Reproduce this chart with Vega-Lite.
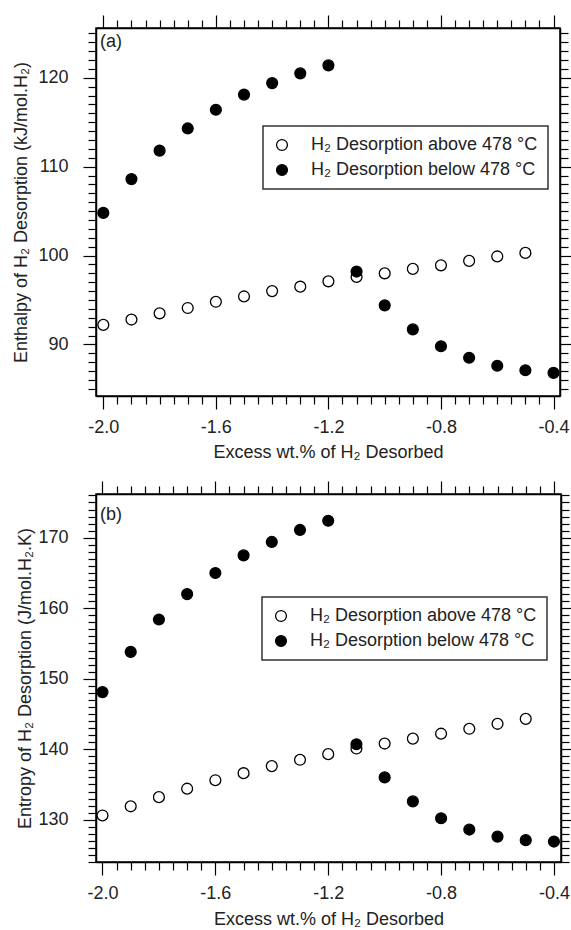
{
  "$schema": "https://vega.github.io/schema/vega-lite/v6.json",
  "padding": {"left": 12, "top": 13, "right": 0, "bottom": 0},
  "spacing": 17,
  "resolve": {"legend": {"fill": "independent"}, "scale": {"fill": "independent"}},
  "datasets": {
    "enthalpy": [
      {"x": -2.0, "v": 92.2, "s": "H₂ Desorption above 478 °C"},
      {"x": -1.9, "v": 92.8, "s": "H₂ Desorption above 478 °C"},
      {"x": -1.8, "v": 93.5, "s": "H₂ Desorption above 478 °C"},
      {"x": -1.7, "v": 94.1, "s": "H₂ Desorption above 478 °C"},
      {"x": -1.6, "v": 94.8, "s": "H₂ Desorption above 478 °C"},
      {"x": -1.5, "v": 95.4, "s": "H₂ Desorption above 478 °C"},
      {"x": -1.4, "v": 96.0, "s": "H₂ Desorption above 478 °C"},
      {"x": -1.3, "v": 96.5, "s": "H₂ Desorption above 478 °C"},
      {"x": -1.2, "v": 97.1, "s": "H₂ Desorption above 478 °C"},
      {"x": -1.1, "v": 97.6, "s": "H₂ Desorption above 478 °C"},
      {"x": -1.0, "v": 98.0, "s": "H₂ Desorption above 478 °C"},
      {"x": -0.9, "v": 98.5, "s": "H₂ Desorption above 478 °C"},
      {"x": -0.8, "v": 98.9, "s": "H₂ Desorption above 478 °C"},
      {"x": -0.7, "v": 99.4, "s": "H₂ Desorption above 478 °C"},
      {"x": -0.6, "v": 99.9, "s": "H₂ Desorption above 478 °C"},
      {"x": -0.5, "v": 100.3, "s": "H₂ Desorption above 478 °C"},
      {"x": -2.0, "v": 104.8, "s": "H₂ Desorption below 478 °C"},
      {"x": -1.9, "v": 108.6, "s": "H₂ Desorption below 478 °C"},
      {"x": -1.8, "v": 111.8, "s": "H₂ Desorption below 478 °C"},
      {"x": -1.7, "v": 114.3, "s": "H₂ Desorption below 478 °C"},
      {"x": -1.6, "v": 116.4, "s": "H₂ Desorption below 478 °C"},
      {"x": -1.5, "v": 118.1, "s": "H₂ Desorption below 478 °C"},
      {"x": -1.4, "v": 119.4, "s": "H₂ Desorption below 478 °C"},
      {"x": -1.3, "v": 120.5, "s": "H₂ Desorption below 478 °C"},
      {"x": -1.2, "v": 121.4, "s": "H₂ Desorption below 478 °C"},
      {"x": -1.1, "v": 98.2, "s": "H₂ Desorption below 478 °C"},
      {"x": -1.0, "v": 94.4, "s": "H₂ Desorption below 478 °C"},
      {"x": -0.9, "v": 91.7, "s": "H₂ Desorption below 478 °C"},
      {"x": -0.8, "v": 89.8, "s": "H₂ Desorption below 478 °C"},
      {"x": -0.7, "v": 88.5, "s": "H₂ Desorption below 478 °C"},
      {"x": -0.6, "v": 87.6, "s": "H₂ Desorption below 478 °C"},
      {"x": -0.5, "v": 87.1, "s": "H₂ Desorption below 478 °C"},
      {"x": -0.4, "v": 86.8, "s": "H₂ Desorption below 478 °C"}
    ],
    "entropy": [
      {"x": -2.0, "v": 130.6, "s": "H₂ Desorption above 478 °C"},
      {"x": -1.9, "v": 131.9, "s": "H₂ Desorption above 478 °C"},
      {"x": -1.8, "v": 133.2, "s": "H₂ Desorption above 478 °C"},
      {"x": -1.7, "v": 134.4, "s": "H₂ Desorption above 478 °C"},
      {"x": -1.6, "v": 135.6, "s": "H₂ Desorption above 478 °C"},
      {"x": -1.5, "v": 136.6, "s": "H₂ Desorption above 478 °C"},
      {"x": -1.4, "v": 137.6, "s": "H₂ Desorption above 478 °C"},
      {"x": -1.3, "v": 138.5, "s": "H₂ Desorption above 478 °C"},
      {"x": -1.2, "v": 139.3, "s": "H₂ Desorption above 478 °C"},
      {"x": -1.1, "v": 140.1, "s": "H₂ Desorption above 478 °C"},
      {"x": -1.0, "v": 140.8, "s": "H₂ Desorption above 478 °C"},
      {"x": -0.9, "v": 141.5, "s": "H₂ Desorption above 478 °C"},
      {"x": -0.8, "v": 142.2, "s": "H₂ Desorption above 478 °C"},
      {"x": -0.7, "v": 142.9, "s": "H₂ Desorption above 478 °C"},
      {"x": -0.6, "v": 143.6, "s": "H₂ Desorption above 478 °C"},
      {"x": -0.5, "v": 144.3, "s": "H₂ Desorption above 478 °C"},
      {"x": -2.0, "v": 148.1, "s": "H₂ Desorption below 478 °C"},
      {"x": -1.9, "v": 153.8, "s": "H₂ Desorption below 478 °C"},
      {"x": -1.8, "v": 158.4, "s": "H₂ Desorption below 478 °C"},
      {"x": -1.7, "v": 162.0, "s": "H₂ Desorption below 478 °C"},
      {"x": -1.6, "v": 165.0, "s": "H₂ Desorption below 478 °C"},
      {"x": -1.5, "v": 167.5, "s": "H₂ Desorption below 478 °C"},
      {"x": -1.4, "v": 169.4, "s": "H₂ Desorption below 478 °C"},
      {"x": -1.3, "v": 171.1, "s": "H₂ Desorption below 478 °C"},
      {"x": -1.2, "v": 172.4, "s": "H₂ Desorption below 478 °C"},
      {"x": -1.1, "v": 140.7, "s": "H₂ Desorption below 478 °C"},
      {"x": -1.0, "v": 136.0, "s": "H₂ Desorption below 478 °C"},
      {"x": -0.9, "v": 132.6, "s": "H₂ Desorption below 478 °C"},
      {"x": -0.8, "v": 130.2, "s": "H₂ Desorption below 478 °C"},
      {"x": -0.7, "v": 128.6, "s": "H₂ Desorption below 478 °C"},
      {"x": -0.6, "v": 127.6, "s": "H₂ Desorption below 478 °C"},
      {"x": -0.5, "v": 127.1, "s": "H₂ Desorption below 478 °C"},
      {"x": -0.4, "v": 126.9, "s": "H₂ Desorption below 478 °C"}
    ]
  },
  "vconcat": [
    {
      "width": 464,
      "height": 368,
      "resolve": {"axis": {"x": "independent", "y": "independent"}},
      "layer": [
        {
          "data": {"name": "enthalpy"},
          "mark": {"type": "point", "shape": "circle", "filled": true, "stroke": "black", "strokeWidth": 1.3, "size": 118, "opacity": 1},
          "encoding": {
            "x": {"field": "x", "type": "quantitative",
              "scale": {"domain": [-2.026, -0.377], "nice": false, "zero": false},
              "axis": {"orient": "bottom",
                "values": [-2, -1.95, -1.9, -1.85, -1.8, -1.75, -1.7, -1.65, -1.6, -1.55, -1.5, -1.45, -1.4, -1.35, -1.3, -1.25, -1.2, -1.15, -1.1, -1.05, -1, -0.95, -0.9, -0.85, -0.8, -0.75, -0.7, -0.65, -0.6, -0.55, -0.5, -0.45, -0.4],
                "tickSize": {"condition": {"test": "abs(datum.value/0.4 - round(datum.value/0.4)) < 0.01", "value": 13}, "value": 8},
                "labelExpr": "abs(datum.value/0.4 - round(datum.value/0.4)) < 0.01 ? (datum.value < 0 ? '-' : '') + format(abs(datum.value), '.1f') : ''",
                "labelPadding": 9,
                "title": "Excess wt.% of H₂ Desorbed", "titlePadding": 7}},
            "y": {"field": "v", "type": "quantitative",
              "scale": {"domain": [84.2, 125.6], "nice": false, "zero": false},
              "axis": {"orient": "left",
                "values": [85, 86, 87, 88, 89, 90, 91, 92, 93, 94, 95, 96, 97, 98, 99, 100, 101, 102, 103, 104, 105, 106, 107, 108, 109, 110, 111, 112, 113, 114, 115, 116, 117, 118, 119, 120, 121, 122, 123, 124, 125],
                "tickSize": {"condition": {"test": "datum.value % 10 === 0", "value": 13}, "value": 8},
                "labelExpr": "datum.value % 10 === 0 ? datum.label : ''",
                "labelPadding": 15,
                "title": "Enthalpy of H₂ Desorption (kJ/mol.H₂)", "titlePadding": 7}},
            "fill": {"field": "s", "type": "nominal",
              "scale": {"domain": ["H₂ Desorption above 478 °C", "H₂ Desorption below 478 °C"], "range": ["white", "black"]},
              "legend": {"orient": "none", "legendX": 167, "legendY": 98, "title": null}}
          }
        },
        {
          "data": {"name": "enthalpy"},
          "mark": {"type": "point", "opacity": 0},
          "encoding": {
            "x": {"field": "x", "type": "quantitative",
              "axis": {"orient": "top", "labels": false, "title": null,
                "values": [-2, -1.95, -1.9, -1.85, -1.8, -1.75, -1.7, -1.65, -1.6, -1.55, -1.5, -1.45, -1.4, -1.35, -1.3, -1.25, -1.2, -1.15, -1.1, -1.05, -1, -0.95, -0.9, -0.85, -0.8, -0.75, -0.7, -0.65, -0.6, -0.55, -0.5, -0.45, -0.4],
                "tickSize": {"condition": {"test": "abs(datum.value/0.4 - round(datum.value/0.4)) < 0.01", "value": 13}, "value": 8}}},
            "y": {"field": "v", "type": "quantitative",
              "axis": {"orient": "right", "labels": false, "title": null,
                "values": [85, 86, 87, 88, 89, 90, 91, 92, 93, 94, 95, 96, 97, 98, 99, 100, 101, 102, 103, 104, 105, 106, 107, 108, 109, 110, 111, 112, 113, 114, 115, 116, 117, 118, 119, 120, 121, 122, 123, 124, 125],
                "tickSize": {"condition": {"test": "datum.value % 10 === 0", "value": 13}, "value": 8}}}
          }
        },
        {
          "data": {"values": [{"panel": "(a)"}]},
          "mark": {"type": "text", "align": "left", "baseline": "middle", "font": "Liberation Sans", "fontSize": 18, "color": "#222"},
          "encoding": {
            "x": {"datum": -2.012, "type": "quantitative", "axis": null},
            "y": {"datum": 124.0, "type": "quantitative", "axis": null},
            "text": {"field": "panel"}
          }
        }
      ]
    },
    {
      "width": 465,
      "height": 368,
      "resolve": {"axis": {"x": "independent", "y": "independent"}},
      "layer": [
        {
          "data": {"name": "entropy"},
          "mark": {"type": "point", "shape": "circle", "filled": true, "stroke": "black", "strokeWidth": 1.3, "size": 118, "opacity": 1},
          "encoding": {
            "x": {"field": "x", "type": "quantitative",
              "scale": {"domain": [-2.023, -0.375], "nice": false, "zero": false},
              "axis": {"orient": "bottom",
                "values": [-2, -1.95, -1.9, -1.85, -1.8, -1.75, -1.7, -1.65, -1.6, -1.55, -1.5, -1.45, -1.4, -1.35, -1.3, -1.25, -1.2, -1.15, -1.1, -1.05, -1, -0.95, -0.9, -0.85, -0.8, -0.75, -0.7, -0.65, -0.6, -0.55, -0.5, -0.45, -0.4],
                "tickSize": {"condition": {"test": "abs(datum.value/0.4 - round(datum.value/0.4)) < 0.01", "value": 13}, "value": 8},
                "labelExpr": "abs(datum.value/0.4 - round(datum.value/0.4)) < 0.01 ? (datum.value < 0 ? '-' : '') + format(abs(datum.value), '.1f') : ''",
                "labelPadding": 9,
                "title": "Excess wt.% of H₂ Desorbed", "titlePadding": 8}},
            "y": {"field": "v", "type": "quantitative",
              "scale": {"domain": [124.0, 176.2], "nice": false, "zero": false},
              "axis": {"orient": "left",
                "values": [124, 125, 126, 127, 128, 129, 130, 131, 132, 133, 134, 135, 136, 137, 138, 139, 140, 141, 142, 143, 144, 145, 146, 147, 148, 149, 150, 151, 152, 153, 154, 155, 156, 157, 158, 159, 160, 161, 162, 163, 164, 165, 166, 167, 168, 169, 170, 171, 172, 173, 174, 175, 176],
                "tickSize": {"condition": {"test": "datum.value % 10 === 0", "value": 13}, "value": 8},
                "labelExpr": "datum.value % 10 === 0 ? datum.label : ''",
                "labelPadding": 15,
                "title": "Entropy of H₂ Desorption (J/mol.H₂.K)", "titlePadding": 3}},
            "fill": {"field": "s", "type": "nominal",
              "scale": {"domain": ["H₂ Desorption above 478 °C", "H₂ Desorption below 478 °C"], "range": ["white", "black"]},
              "legend": {"orient": "none", "legendX": 166, "legendY": 103, "title": null}}
          }
        },
        {
          "data": {"name": "entropy"},
          "mark": {"type": "point", "opacity": 0},
          "encoding": {
            "x": {"field": "x", "type": "quantitative",
              "axis": {"orient": "top", "labels": false, "title": null,
                "values": [-2, -1.95, -1.9, -1.85, -1.8, -1.75, -1.7, -1.65, -1.6, -1.55, -1.5, -1.45, -1.4, -1.35, -1.3, -1.25, -1.2, -1.15, -1.1, -1.05, -1, -0.95, -0.9, -0.85, -0.8, -0.75, -0.7, -0.65, -0.6, -0.55, -0.5, -0.45, -0.4],
                "tickSize": {"condition": {"test": "abs(datum.value/0.4 - round(datum.value/0.4)) < 0.01", "value": 13}, "value": 8}}},
            "y": {"field": "v", "type": "quantitative",
              "axis": {"orient": "right", "labels": false, "title": null,
                "values": [124, 125, 126, 127, 128, 129, 130, 131, 132, 133, 134, 135, 136, 137, 138, 139, 140, 141, 142, 143, 144, 145, 146, 147, 148, 149, 150, 151, 152, 153, 154, 155, 156, 157, 158, 159, 160, 161, 162, 163, 164, 165, 166, 167, 168, 169, 170, 171, 172, 173, 174, 175, 176],
                "tickSize": {"condition": {"test": "datum.value % 10 === 0", "value": 13}, "value": 8}}}
          }
        },
        {
          "data": {"values": [{"panel": "(b)"}]},
          "mark": {"type": "text", "align": "left", "baseline": "middle", "font": "Liberation Sans", "fontSize": 18, "color": "#222"},
          "encoding": {
            "x": {"datum": -2.009, "type": "quantitative", "axis": null},
            "y": {"datum": 173.2, "type": "quantitative", "axis": null},
            "text": {"field": "panel"}
          }
        }
      ]
    }
  ],
  "config": {
    "view": {"stroke": "black", "strokeWidth": 1.5},
    "axis": {
      "labelFont": "Liberation Sans", "labelFontSize": 18, "labelColor": "#222",
      "titleFont": "Liberation Sans", "titleFontSize": 18, "titleFontWeight": "normal", "titleColor": "#222",
      "domainColor": "black", "domainWidth": 1.5, "tickColor": "black", "tickWidth": 1.2,
      "grid": false, "labelOverlap": false, "labelBound": false, "labelFlush": false
    },
    "legend": {
      "labelFont": "Liberation Sans", "labelFontSize": 18, "labelColor": "#222", "labelLimit": 400,
      "strokeColor": "#333", "strokeWidth": 1.5, "padding": 10, "rowPadding": 7,
      "symbolType": "circle", "symbolSize": 118, "symbolStrokeColor": "black", "symbolStrokeWidth": 1.3,
      "labelOffset": 20, "fillColor": "white"
    }
  }
}
